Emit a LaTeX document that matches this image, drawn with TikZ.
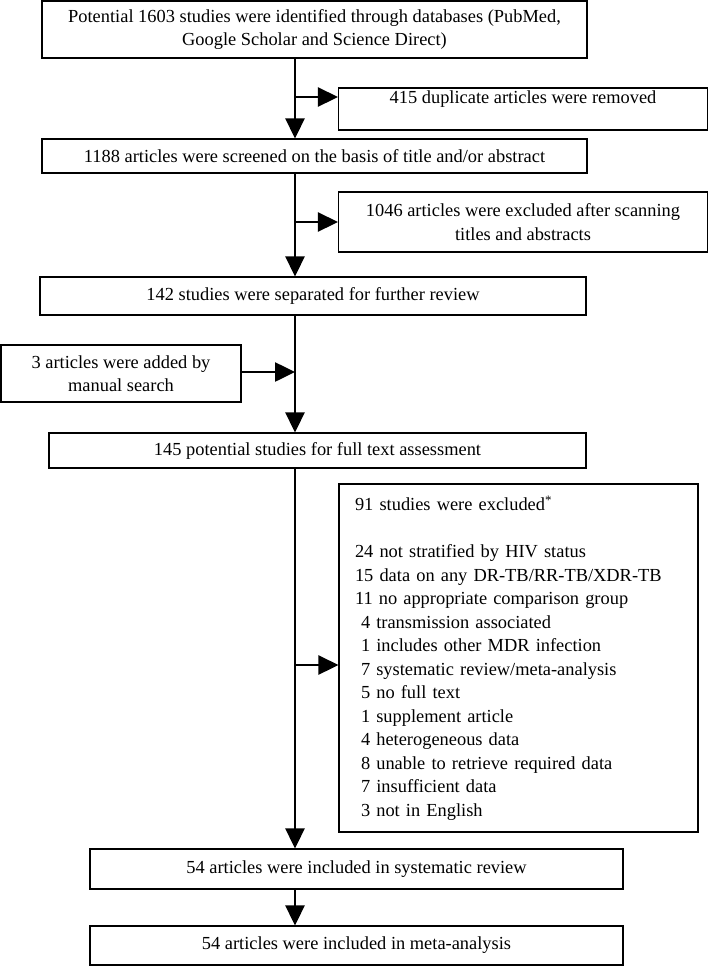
\documentclass[tikz,border=0pt]{standalone}
\usepackage{fontspec}
\setmainfont{Liberation Serif}
\usepackage{tikz}
\usetikzlibrary {arrows.meta,
                 positioning}
\tikzset{
        base/.style={draw, line width=1.1pt, inner sep=0pt,
                     font=\fontsize{18.4pt}{23.5pt}\selectfont},
        proc/.style={base, rectangle, align=center},
        side/.style={proc, minimum width=369pt},
        myarrow/.style={-{Triangle[length=20pt, width=19pt]}, line width=2.6pt},
 }
\newcommand{\ind}{\hspace*{6pt}}

\begin{document}
\begin{tikzpicture}[x=1pt, y=-1pt]
    \useasboundingbox (0,0) rectangle (709,967);
    \node[proc, minimum width=545pt, minimum height=57pt] (found) at (314.5,29.5) {Potential 1603 studies were identified through databases (PubMed,\\ Google Scholar and Science Direct)};
    \node[side, minimum height=42pt] (dup) at (523,109) {415 duplicate articles were removed\\ \mbox{}};
    \node[proc, minimum width=545pt, minimum height=34pt] (screen) at (314.5,156) {1188 articles were screened on the basis of title and/or abstract};
    \node[side, minimum height=60pt] (excl) at (523,222) {1046 articles were excluded after scanning\\ titles and abstracts};
    \node[proc, minimum width=546pt, minimum height=38pt] (sep) at (313,296) {142 studies were separated for further review};
    \node[proc, minimum width=240pt, minimum height=57pt] (manual) at (121,373.5) {3 articles were added by\\ manual search};
    \node[proc, minimum width=537pt, minimum height=35pt] (full) at (317.5,450.5) {145 potential studies for full text assessment};
    \node[base, align=left, text width=327pt, inner xsep=16pt, minimum height=348pt] (drop) at (518.5,658) {91 studies were excluded\textsuperscript{*}\\[23.5pt]
        24 not stratified by HIV status\\
        15 data on any DR-TB/RR-TB/XDR-TB\\
        11 no appropriate comparison group\\
        \ind 4 transmission associated\\
        \ind 1 includes other MDR infection\\
        \ind 7 systematic review/meta-analysis\\
        \ind 5 no full text\\
        \ind 1 supplement article\\
        \ind 4 heterogeneous data\\
        \ind 8 unable to retrieve required data\\
        \ind 7 insufficient data\\
        \ind 3 not in English};
    \node[proc, minimum width=533pt, minimum height=40pt] (sysrev) at (356.5,869) {54 articles were included in systematic review};
    \node[proc, minimum width=533pt, minimum height=39pt] (meta) at (356.5,945.5) {54 articles were included in meta-analysis};

    % main spine
    \coordinate (spine) at (295,0);
    \draw[myarrow] (found.south -| spine) -- (screen.north -| spine);
    \draw[myarrow] (screen.south -| spine) -- (sep.north -| spine);
    \draw[myarrow] (sep.south -| spine) -- (full.north -| spine);
    \draw[myarrow] (full.south -| spine) -- (sysrev.north -| spine);
    \draw[myarrow] (sysrev.south -| spine) -- (meta.north -| spine);

    % side branches
    \coordinate (j1) at (295,97);
    \coordinate (j2) at (295,222);
    \coordinate (j3) at (295,372);
    \coordinate (j4) at (295,665);
    \draw[myarrow] (j1) -- (dup.west |- j1);
    \draw[myarrow] (j2) -- (excl.west |- j2);
    \draw[myarrow] (manual.east |- j3) -- (j3);
    \draw[myarrow] (j4) -- (drop.west |- j4);
\end{tikzpicture}
\end{document}
